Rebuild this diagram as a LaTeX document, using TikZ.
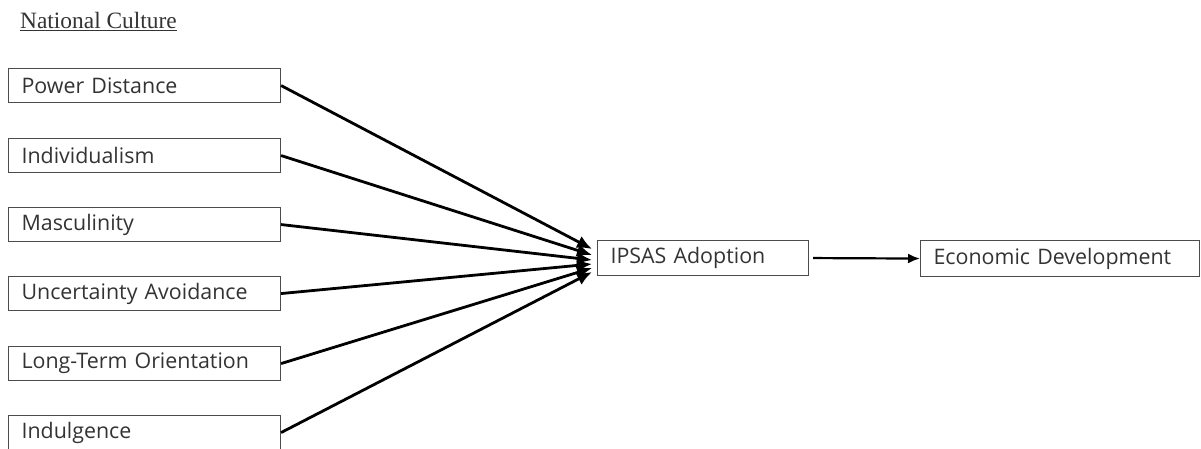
\documentclass[tikz,border=0pt]{standalone}
\usepackage{fontspec}
\setmainfont{Open Sans}
\newfontfamily\serifttl{Liberation Serif}
\usetikzlibrary{arrows.meta}
\tikzset{
  factor/.style={draw=black!70, line width=1.1pt, rectangle, anchor=north west,
    minimum height=34pt, inner xsep=13pt, inner ysep=0pt, align=left,
    font=\fontsize{21.4}{26}\selectfont, text=black!80},
  conn/.style={line width=2.8pt, -{Latex[length=15pt,width=13pt]}},
}
\begin{document}
\begin{tikzpicture}[x=1pt,y=-1pt]
\useasboundingbox (0,0) rectangle (1201,448);
\clip (0,0) rectangle (1201,448);
\node[anchor=north west, inner sep=0pt, font=\serifttl\fontsize{23.4}{26}\selectfont, text=black!80] (title) at (20,12) {\underline{National Culture}};
\node[factor, text width=246pt] (pd) at (8,68) {Power Distance};
\node[factor, text width=246pt] (ind) at (8,138) {Individualism};
\node[factor, text width=246pt] (mas) at (8,207) {Masculinity};
\node[factor, text width=246pt] (ua) at (8,276) {Uncertainty Avoidance};
\node[factor, text width=246pt] (lto) at (8,346) {Long-Term Orientation};
\node[factor, text width=246pt] (idg) at (8,415) {Indulgence};
\node[factor, text width=185pt, minimum height=35pt] (ipsas) at (597,240) {IPSAS Adoption};
\node[factor, text width=253pt, minimum height=36pt] (econ) at (920,240) {Economic Development};
\coordinate (t1) at (592,249);
\coordinate (t2) at (592,255);
\coordinate (t3) at (592,260);
\coordinate (t4) at (592,264);
\coordinate (t5) at (592,268);
\coordinate (t6) at (592,272);
\draw[conn] (pd.east) -- (t1);
\draw[conn] (ind.east) -- (t2);
\draw[conn] (mas.east) -- (t3);
\draw[conn] (ua.east) -- (t4);
\draw[conn] (lto.east) -- (t5);
\draw[conn] (idg.east) -- (t6);
\draw[conn, line width=2.2pt, -{Latex[length=12pt,width=10pt]}] ([xshift=4pt]ipsas.east) -- (econ.west);
\end{tikzpicture}
\end{document}
